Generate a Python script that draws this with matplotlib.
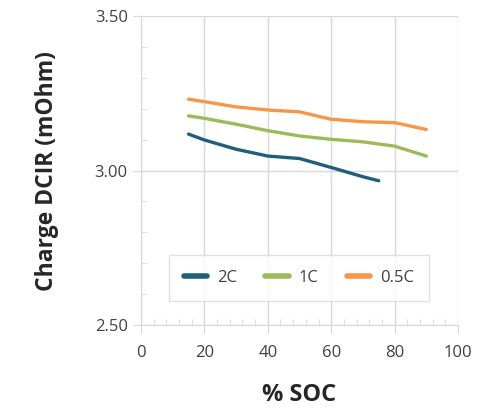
import numpy as np
import matplotlib.pyplot as plt
from matplotlib.ticker import MultipleLocator

soc_2c = [15, 20, 30, 40, 50, 60, 70, 75]
dcir_2c = [3.118, 3.099, 3.069, 3.047, 3.039, 3.010, 2.980, 2.967]

soc_1c = [15, 20, 30, 40, 50, 60, 70, 80, 90]
dcir_1c = [3.177, 3.169, 3.150, 3.129, 3.112, 3.101, 3.093, 3.079, 3.047]

soc_05c = [15, 20, 30, 40, 50, 60, 70, 80, 90]
dcir_05c = [3.231, 3.223, 3.206, 3.196, 3.190, 3.166, 3.158, 3.155, 3.133]

plt.rcParams['font.family'] = ['Open Sans', 'DejaVu Sans']

fig = plt.figure(figsize=(4.93, 4.11), dpi=100)
ax = fig.add_axes([0.286, 0.209, 0.643, 0.752])

ax.plot(soc_2c, dcir_2c, color='#1f5f7b', lw=2.4, label='2C', solid_capstyle='round')
ax.plot(soc_1c, dcir_1c, color='#9bbb59', lw=2.4, label='1C', solid_capstyle='round')
ax.plot(soc_05c, dcir_05c, color='#f79646', lw=2.4, label='0.5C', solid_capstyle='round')

ax.set_xlim(0, 100)
ax.set_ylim(2.5, 3.5)
ax.set_xticks(range(0, 101, 20))
ax.set_yticks([2.5, 3.0, 3.5])
ax.set_yticklabels(['2.50', '3.00', '3.50'])
ax.xaxis.set_minor_locator(MultipleLocator(4))
ax.yaxis.set_minor_locator(MultipleLocator(0.1))

gc = '#d9d9d9'
ax.grid(True, which='major', color=gc, lw=1)
ax.spines['top'].set_visible(False)
ax.spines['right'].set_visible(False)
ax.spines['left'].set_color(gc)
ax.spines['bottom'].set_color(gc)
ax.tick_params(which='major', length=6, color=gc, labelsize=12, labelcolor='#404040')
ax.tick_params(axis='x', which='major', pad=8)
ax.tick_params(which='minor', direction='in', length=4, color=gc)
ax.set_axisbelow(True)

ax.set_xlabel('% SOC', fontsize=17, fontweight='bold', color='#262626', labelpad=16)
ax.set_ylabel('Charge DCIR (mOhm)', fontsize=16.5, fontweight='bold', color='#262626', labelpad=26)

leg = ax.legend(loc='center', bbox_to_anchor=(0.498, 0.152), ncol=3, frameon=True,
                fancybox=False, fontsize=12, handlelength=1.4, columnspacing=1.7,
                borderpad=0.9, handletextpad=0.6)
leg.get_frame().set_edgecolor(gc)
leg.get_frame().set_linewidth(1)
for line in leg.get_lines():
    line.set_linewidth(4)
for t in leg.get_texts():
    t.set_color('#404040')

fig.savefig('out.png', dpi=100)
